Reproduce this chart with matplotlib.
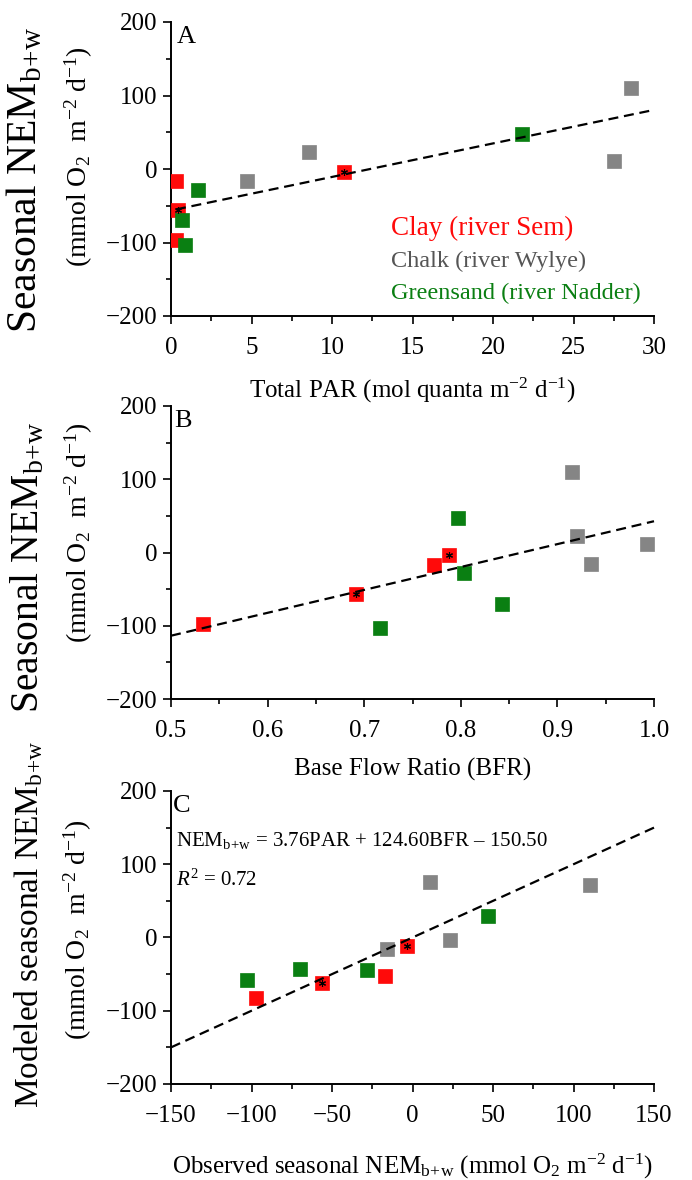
import matplotlib

matplotlib.use("Agg")
import matplotlib.pyplot as plt
from matplotlib.ticker import MultipleLocator
import numpy as np

# Panel A: total PAR vs seasonal NEM
par_clay = [0.31, 0.46, 0.31, 10.77]
par_chalk = [4.7, 8.6, 27.5, 28.6]
par_green = [1.66, 0.66, 0.87, 21.8]

# Panel B: base flow ratio
bfr_clay = [0.772, 0.692, 0.533, 0.788]
bfr_chalk = [0.935, 0.920, 0.993, 0.915]
bfr_green = [0.803, 0.843, 0.716, 0.797]

# observed seasonal NEM (same for A, B and C x)
nem_clay = [-17, -56, -97, -3.6]
nem_chalk = [-16, 23, 11, 110]
nem_green = [-28, -70, -103, 47]

# Panel C: modeled NEM (same order as observed)
mod_clay = [-53, -62, -83, -12]
mod_chalk = [-16, -4, 76, 71]
mod_green = [-45, -43, -58, 30]

clay_marked = [False, True, False, True]

# fitted lines (slope, intercept, x range)
fit_a = (4.56, -56.4, (0.31, 30))
fit_b = (312.6, -269.9, (0.5, 1.0))
fit_c = (1.0, 0.0, (-150, 150))

RED = "#ff0a0a"
GRAY = "#858585"
GREEN = "#0a7f12"

plt.rcParams["font.family"] = ["Liberation Serif", "DejaVu Serif"]
plt.rcParams["mathtext.fontset"] = "custom"
plt.rcParams["mathtext.rm"] = "Liberation Serif"
plt.rcParams["mathtext.it"] = "Liberation Serif:italic"
plt.rcParams["mathtext.bf"] = "Liberation Serif:bold"

W, H = 692, 1180
fig = plt.figure(figsize=(W / 100, H / 100), dpi=100)

BW = r"$_{\mathrm{b}\!+\!\mathrm{w}}$"


def px_axes(left, top, right, bottom):
    return fig.add_axes([left / W, 1 - bottom / H, (right - left) / W, (bottom - top) / H])


def style(ax, xmaj, xmin):
    for s in ["top", "right"]:
        ax.spines[s].set_visible(False)
    for s in ["left", "bottom"]:
        ax.spines[s].set_linewidth(1.4)
    ax.set_ylim(-200, 200)
    ax.yaxis.set_major_locator(MultipleLocator(100))
    ax.yaxis.set_minor_locator(MultipleLocator(50))
    ax.xaxis.set_major_locator(MultipleLocator(xmaj))
    ax.xaxis.set_minor_locator(MultipleLocator(xmin))
    ax.tick_params(which="major", direction="out", length=6, width=1.2, labelsize=18, pad=4)
    ax.tick_params(which="minor", direction="out", length=3.5, width=1.2)
    ax.tick_params(axis="x", which="major", pad=9)


def draw_points(ax, xs, ys):
    for x, y, c in zip(xs, ys, [RED, GRAY, GREEN]):
        ax.plot(x, y, ls="none", marker="s", ms=9.5, color=c, mec=c, mew=0.5, zorder=3)
    cx = [v for v, m in zip(xs[0], clay_marked) if m]
    cy = [v for v, m in zip(ys[0], clay_marked) if m]
    ax.plot(cx, cy, ls="none", marker=(6, 2, 0), ms=5, color="black", mew=0.8, zorder=5)


def draw_fit(ax, fit):
    slope, icpt, (x0, x1) = fit
    xx = np.array([x0, x1])
    ax.plot(xx, slope * xx + icpt, ls=(0, (4.5, 2.6)), color="black", lw=1.6, zorder=4,
            clip_on=False)


def ylab(x, bottom, line1, size1, x2, bottom2):
    fig.text(x / W, 1 - bottom / H, line1, rotation=90, ha="center", va="bottom", fontsize=size1)
    fig.text(x2 / W, 1 - bottom2 / H, nem_unit, rotation=90, ha="center", va="bottom",
             fontsize=20)


nem_unit = r"(mmol O$_2$  m$^{-2}$ d$^{-1}$)"

# ---- A ----
axA = px_axes(171, 22, 654, 316)
style(axA, 5, 2.5)
axA.set_xlim(0, 30)
draw_fit(axA, fit_a)
draw_points(axA, [par_clay, par_chalk, par_green], [nem_clay, nem_chalk, nem_green])
axA.set_xlabel(r"Total PAR (mol quanta m$^{-2}$ d$^{-1}$)", fontsize=18, va="top")
axA.xaxis.set_label_coords(0.5, -0.205)
axA.text(0.012, 0.985, "A", transform=axA.transAxes, fontsize=19, va="top", ha="left")
legend_rows = [("Clay (river Sem)", RED, 0.299, 19.5),
               ("Chalk (river Wylye)", "#555555", 0.184, 17.5),
               ("Greensand (river Nadder)", GREEN, 0.078, 17.5)]
for lab, c, yy, fs in legend_rows:
    axA.text(0.455, yy, lab, color=c, fontsize=fs, transform=axA.transAxes,
             va="center", ha="left")
ylab(25, 333, "Seasonal NEM" + BW, 30, 79, 267)

# ---- B ----
axB = px_axes(171, 406, 654, 699)
style(axB, 0.1, 0.05)
axB.set_xlim(0.5, 1.0)
axB.xaxis.set_major_formatter(matplotlib.ticker.FormatStrFormatter("%.1f"))
draw_fit(axB, fit_b)
draw_points(axB, [bfr_clay, bfr_chalk, bfr_green], [nem_clay, nem_chalk, nem_green])
axB.set_xlabel("Base Flow Ratio (BFR)", fontsize=18, va="top")
axB.xaxis.set_label_coords(0.5, -0.2)
axB.text(0.006, 0.985, "B", transform=axB.transAxes, fontsize=19, va="top", ha="left")
ylab(28, 713, "Seasonal NEM" + BW, 28.5, 79, 643)

# ---- C ----
axC = px_axes(171, 791, 654, 1084)
style(axC, 50, 25)
axC.set_xlim(-150, 150)
draw_fit(axC, fit_c)
draw_points(axC, [nem_clay, nem_chalk, nem_green], [mod_clay, mod_chalk, mod_green])
axC.set_xlabel("Observed seasonal NEM" + BW + r" (mmol O$_2$ m$^{-2}$ d$^{-1}$)",
               fontsize=18, va="top")
axC.xaxis.set_label_coords(0.5, -0.23)
axC.text(0.004, 0.985, "C", transform=axC.transAxes, fontsize=19, va="top", ha="left")
axC.text(0.01, 0.83, "NEM" + BW + " = 3.76PAR + 124.60BFR \u2013 150.50",
         transform=axC.transAxes, fontsize=15, va="center", ha="left")
axC.text(0.01, 0.694, r"$\mathit{R}^2$ = 0.72", transform=axC.transAxes, fontsize=15,
         va="center", ha="left")
ylab(29, 1108, "Modeled seasonal NEM" + BW, 24, 78, 1040)

fig.savefig("out.png", dpi=100)
